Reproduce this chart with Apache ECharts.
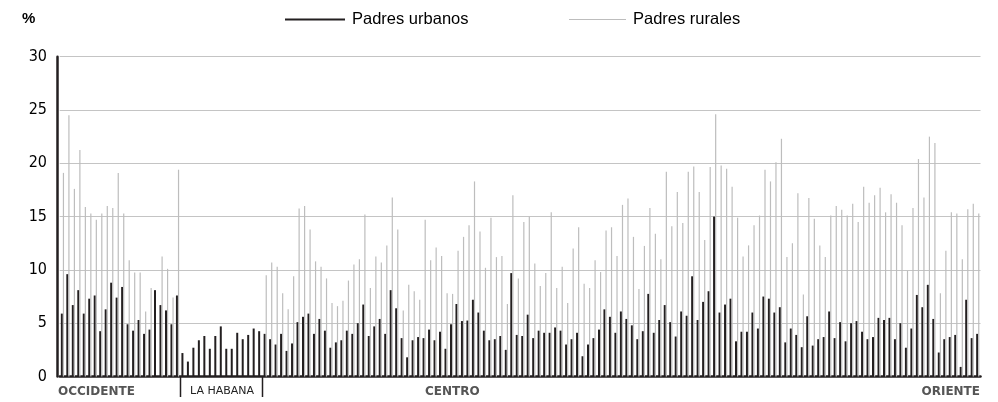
<!DOCTYPE html>
<html>
<head>
<meta charset="utf-8">
<script src="https://cdn.jsdelivr.net/npm/echarts@6/dist/echarts.min.js"></script>
<style>
  html, body { margin: 0; padding: 0; background: #fff; }
  #chart { width: 998px; height: 402px; }
</style>
</head>
<body>
<div id="chart"></div>
<script>
// Padres urbanos (%) por municipio, de occidente a oriente
const urbanos = [
  5.9, 9.6, 6.7, 8.1, 5.9, 7.3, 7.6, 4.25, 6.3, 8.8, 7.4, 8.4, 4.9, 4.3,
  5.3, 4.0, 4.4, 8.1, 6.7, 6.2, 4.9, 7.6,
  2.2, 1.4, 2.7, 3.4, 3.8, 2.6, 3.8, 4.7, 2.6, 2.6, 4.1, 3.5, 3.9, 4.5, 4.25,
  4.0, 3.5, 3.0, 4.0, 2.4,
  3.1, 5.1, 5.6, 5.9, 4.0, 5.4, 4.3, 2.7, 3.2, 3.4, 4.3, 4.0, 5.0, 6.75,
  3.8, 4.7, 5.4, 4.0, 8.1, 6.4, 3.6, 1.8, 3.4, 3.7, 3.6, 4.4, 3.4, 4.2, 2.6,
  4.9, 6.8, 5.2, 5.25, 7.2, 6.0, 4.3, 3.4, 3.5, 3.8, 2.5, 9.7, 3.9, 3.8,
  5.8, 3.6, 4.3, 4.1, 4.1, 4.6, 4.3, 3.0, 3.5, 4.1, 1.9, 3.0, 3.6, 4.4,
  6.3, 5.6, 4.1, 6.1, 5.4, 4.8, 3.5, 4.25, 7.75, 4.1, 5.3, 6.7, 5.1, 3.75,
  6.1, 5.7, 9.4, 5.3, 7.0, 8.0, 15.0, 6.0, 6.75, 7.3, 3.3, 4.2, 4.2, 6.0,
  4.5, 7.5, 7.3, 6.0, 6.5, 3.2, 4.5, 3.9, 2.75, 5.65, 2.9, 3.5, 3.7, 6.1, 3.6,
  5.1, 3.3, 5.0, 5.2, 4.2, 3.5, 3.7, 5.5, 5.3, 5.5, 3.5, 5.0, 2.7, 4.5,
  7.65, 6.5, 8.6, 5.4, 2.25, 3.5, 3.7, 3.9, 0.9, 7.2, 3.6, 4.0
];

// Padres rurales (%) por municipio (La Habana no tiene zona rural)
const rurales = [
  19.1, 24.5, 17.6, 21.25, 15.9, 15.3, 14.7, 15.3, 16.0, 15.8, 19.1, 15.3, 10.9, 9.75,
  9.75, 6.1, 8.3, null, 11.25, 10.1, 7.4, 19.4,
  null, null, null, null, null, null, null, null, null, null, null, null, null, null, null,
  9.5, 10.7, 10.3, 7.8, 6.3,
  9.4, 15.75, 16.0, 13.8, 10.8, 10.3, 9.2, 6.9, 6.6, 7.1, 9.0, 10.5, 11.0, 15.2,
  8.3, 11.25, 10.7, 12.3, 16.8, 13.8, 6.2, 8.6, 8.0, 7.2, 14.7, 10.9, 12.1, 11.3, 7.8,
  7.75, 11.8, 13.1, 14.2, 18.3, 13.6, 10.2, 14.9, 11.2, 11.3, 6.8, 17.0, 9.2, 14.5,
  15.0, 10.6, 8.5, 9.7, 15.4, 8.3, 10.3, 6.9, 12.0, 14.0, 8.7, 8.3, 10.9, 9.8,
  13.7, 14.0, 11.3, 16.1, 16.7, 13.1, 8.2, 12.25, 15.8, 13.4, 11.0, 19.2, 14.1, 17.3,
  14.4, 19.2, 19.7, 17.3, 12.8, 19.65, 24.6, 19.8, 19.5, 17.8, 14.9, 11.25, 12.3, 14.2,
  15.1, 19.4, 18.3, 20.1, 22.3, 11.2, 12.5, 17.2, 7.7, 16.75, 14.8, 12.3, 11.2, 15.1, 16.0,
  15.65, 15.1, 16.2, 14.5, 17.8, 16.3, 17.0, 17.7, 15.4, 17.1, 16.3, 14.2, 9.9, 15.8,
  20.4, 16.8, 22.5, 21.9, 7.8, 11.8, 15.4, 15.3, 11.0, 15.7, 16.2, 15.3
];

// un municipio por categoría
const municipios = urbanos.map((_, i) => String(i + 1));

// regiones bajo el eje
const regiones = ['OCCIDENTE', 'LA HABANA', 'CENTRO', 'ORIENTE'];

const fuente = "'Liberation Sans Narrow', 'DejaVu Sans Condensed', sans-serif";
const negro = '#231f20';
const gris = '#bdbdbd';

const chart = echarts.init(document.getElementById('chart'));

const option = {
  animation: false,
  grid: { left: 59.7, right: 17.5, top: 56.7, bottom: 25.5 },
  legend: [
    {
      left: 285, top: 11, padding: 0,
      icon: 'rect', itemWidth: 60, itemHeight: 2, itemGap: 0,
      textStyle: { fontFamily: "'Liberation Sans', sans-serif", fontSize: 16.5, color: '#000', padding: [0, 0, 0, 2] },
      data: ['Padres urbanos']
    },
    {
      left: 569, top: 11, padding: 0,
      icon: 'rect', itemWidth: 57, itemHeight: 1, itemGap: 0,
      textStyle: { fontFamily: "'Liberation Sans', sans-serif", fontSize: 16.5, color: '#000', padding: [0, 0, 0, 2] },
      data: ['Padres rurales']
    }
  ],
  xAxis: {
    type: 'category',
    data: municipios,
    axisLine: { lineStyle: { color: negro, width: 2.5 } },
    axisTick: { show: false },
    axisLabel: { show: false }
  },
  yAxis: {
    type: 'value',
    min: 0,
    max: 30,
    interval: 5,
    offset: 2.7,
    axisLine: { show: true, lineStyle: { color: negro, width: 2.5 } },
    axisTick: { show: false },
    axisLabel: { color: '#000', fontSize: 16, fontFamily: fuente, margin: 10 },
    splitLine: { lineStyle: { color: '#c4c4c4', width: 1.2 } }
  },
  series: [
    {
      name: 'Padres urbanos',
      type: 'bar',
      data: urbanos,
      barWidth: 2,
      barGap: '0%',
      itemStyle: { color: negro }
    },
    {
      name: 'Padres rurales',
      type: 'bar',
      data: rurales,
      barWidth: 1.2,
      barGap: '0%',
      itemStyle: { color: gris }
    }
  ],
  graphic: [
    { type: 'text', left: 22, top: 11,
      style: { text: '%', font: "bold 15px 'Liberation Sans', sans-serif", fill: '#000' } },
    { type: 'text', left: 58, top: 386,
      style: { text: regiones[0], font: "bold 12px 'DejaVu Sans', sans-serif", fill: '#555' } },
    { type: 'text', left: 190, top: 386,
      style: { text: regiones[1], font: "11px 'DejaVu Sans', sans-serif", fill: '#222' } },
    { type: 'text', left: 425, top: 386,
      style: { text: regiones[2], font: "bold 12px 'DejaVu Sans', sans-serif", fill: '#555' } },
    { type: 'text', right: 18, top: 386,
      style: { text: regiones[3], font: "bold 12px 'DejaVu Sans', sans-serif", fill: '#555' } },
    { type: 'line', shape: { x1: 180.5, y1: 377, x2: 180.5, y2: 397 },
      style: { stroke: negro, lineWidth: 1.5 } },
    { type: 'line', shape: { x1: 262.5, y1: 377, x2: 262.5, y2: 397 },
      style: { stroke: negro, lineWidth: 1.5 } }
  ]
};

chart.setOption(option);
</script>
</body>
</html>
